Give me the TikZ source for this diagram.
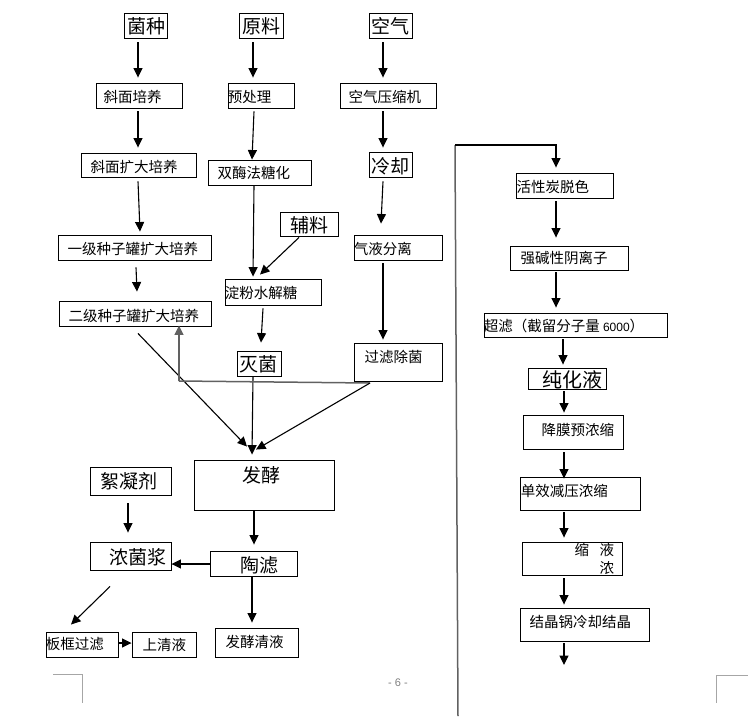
\documentclass[tikz,border=0pt]{standalone}
\usepackage{fontspec}
\newfontfamily\cjk{Noto Sans CJK SC}
\newfontfamily\lat{Liberation Sans}
\usetikzlibrary{arrows.meta,calc,fit}
\newcommand\mybox[5]{\node[box,fit={(#2,#3) (#4,#5)}] (#1) {};}
\begin{document}
\begin{tikzpicture}[x=1pt,y=-1pt,
  box/.style={draw,line width=0.9pt,inner sep=0pt},
  txt/.style={inner sep=0pt,anchor=west,font=\cjk\fontsize{14.5}{16}\selectfont},
  big/.style={inner sep=0pt,anchor=west,font=\cjk\fontsize{19}{21}\selectfont},
  bigger/.style={inner sep=0pt,anchor=west,font=\cjk\fontsize{20}{22}\selectfont},
  tip/.style={-{Triangle[length=9.5pt,width=9pt]}},
  arr/.style={draw,line width=1.1pt,tip},
  grayline/.style={draw=black!62,line width=1.5pt},
  pagemark/.style={draw=black!35,line width=0.8pt}]
\useasboundingbox (0,0) rectangle (748,716);

% ---------- boxes ----------
\mybox{jz}{124}{13}{167}{38}
\mybox{yl}{239}{13}{283}{38}
\mybox{kq}{369}{13}{412}{38}
\mybox{xmpy}{96}{83}{182}{108}
\mybox{ycl}{228}{83}{294}{108}
\mybox{ysj}{340}{83}{436}{108}
\mybox{kdpy}{81}{153}{196}{177}
\mybox{smf}{208}{160}{311}{185}
\mybox{lq}{369}{152}{412}{177}
\mybox{fl}{280}{212}{338}{236}
\mybox{yj}{58}{235}{211}{260}
\mybox{qy}{354}{235}{442}{260}
\mybox{dfs}{225}{279}{321}{305}
\mybox{ej}{59}{301}{211}{326}
\mybox{mj}{237}{351}{281}{376}
\mybox{glc}{354}{343}{442}{381}
\mybox{fj}{194}{460}{334}{510}
\mybox{xnj}{90}{467}{171}{495}
\mybox{njj}{90}{542}{171}{570}
\mybox{tl}{210}{551}{297}{576}
\mybox{bk}{46}{632}{118}{657}
\mybox{sqy}{132}{632}{196}{657}
\mybox{fjqy}{215}{628}{298}{657}
\mybox{hxt}{516}{173}{613}{198}
\mybox{qjx}{510}{246}{628}{270}
\mybox{cl}{484}{313}{667}{337}
\mybox{chy}{528}{368}{606}{389}
\mybox{jm}{523}{415}{623}{449}
\mybox{dx}{520}{477}{640}{510}
\mybox{sn}{522}{542}{622}{575}
\mybox{jj}{520}{608}{649}{641}

% ---------- texts ----------
\node[big] (t-jz) at (127.4,26.5) {菌种};
\node[big] (t-yl) at (242.4,26.5) {原料};
\node[big] (t-kq) at (371.4,26.5) {空气};
\node[txt] (t-xmpy) at (103.4,97) {斜面培养};
\node[txt] (t-ycl) at (227.6,97) {预处理};
\node[txt] (t-ysj) at (348.4,97) {空气压缩机};
\node[txt] (t-kdpy) at (90.4,167) {斜面扩大培养};
\node[txt] (t-smf) at (217.4,173) {双酶法糖化};
\node[big] (t-lq) at (371.4,166) {冷却};
\node[big] (t-fl) at (290.4,225) {辅料};
\node[txt] (t-yj) at (67.4,249) {一级种子罐扩大培养};
\node[txt] (t-qy) at (353.6,249) {气液分离};
\node[txt] (t-dfs) at (224.6,293) {淀粉水解糖};
\node[txt] (t-ej) at (68.4,316) {二级种子罐扩大培养};
\node[big] (t-mj) at (239.4,364) {灭菌};
\node[txt] (t-glc) at (364.4,357) {过滤除菌};
\node[big] (t-fj) at (242.4,475) {发酵};
\node[big] (t-xnj) at (100.4,481) {絮凝剂};
\node[big] (t-njj) at (109.4,557) {浓菌浆};
\node[big] (t-tl) at (240.4,565) {陶滤};
\node[txt] (t-bk) at (45.6,644) {板框过滤};
\node[txt] (t-sqy) at (142.4,645) {上清液};
\node[txt] (t-fjqy) at (225.4,642) {发酵清液};
\node[txt] (t-hxt) at (516.4,187) {活性炭脱色};
\node[txt] (t-qjx) at (520.4,258) {强碱性阴离子};
\node[txt] (t-cl) at (483.6,326) {超滤（截留分子量 {\lat\fontsize{12}{14}\selectfont 6000}）};
\node[bigger] (t-chy) at (542.6,380) {纯化液};
\node[txt] (t-jm) at (541.4,430) {降膜预浓缩};
\node[txt] (t-dx) at (520.6,491) {单效减压浓缩};
\node[txt] (t-sn1) at (574.4,550) {缩};
\node[txt] (t-sn2) at (599.4,550) {液};
\node[txt] (t-sn3) at (599.4,568) {浓};
\node[txt] (t-jj) at (529.4,622) {结晶锅冷却结晶};

% ---------- left column connectors ----------
\draw[arr] ($(jz.south -| 138,0)+(0,4)$) -- ($(xmpy.north -| 138,0)+(0,-5)$);
\draw[arr] ($(yl.south -| 253,0)+(0,4)$) -- ($(ycl.north -| 253,0)+(0,-5)$);
\draw[arr] ($(kq.south -| 383,0)+(0,4)$) -- ($(ysj.north -| 383,0)+(0,-5)$);
\draw[arr] ($(xmpy.south -| 138,0)+(0,3)$) -- ($(kdpy.north -| 138,0)+(0,-5)$);
\draw[arr] ($(ycl.south -| 254,0)+(0,3)$) -- (smf.north -| 252,0);
\draw[arr] ($(ysj.south -| 383,0)+(0,3)$) -- ($(lq.north -| 383,0)+(0,-4)$);
\draw[arr] ($(kdpy.south -| 138,0)+(0,4)$) -- ($(yj.north -| 140,0)+(0,-3)$);
\draw[arr] (smf.south -| 254,0) -- ($(dfs.north -| 253,0)+(0,-2)$);
\draw[arr] ($(fl.south -| 299,0)+(0,1)$) -- ($(dfs.north -| 260,0)+(0,-4)$);
\draw[arr] ($(lq.south -| 383,0)+(0,4)$) -- ($(qy.north -| 381,0)+(0,-11)$);
\draw[arr] ($(yj.south -| 136,0)+(0,7)$) -- ($(ej.north -| 137,0)+(0,-9)$);
\draw[arr] ($(qy.south -| 383,0)+(0,3)$) -- ($(glc.north -| 383,0)+(0,-3)$);
\draw[arr] ($(dfs.south -| 263,0)+(0,3)$) -- ($(mj.north -| 261,0)+(0,-8)$);
\draw[arr] (mj.south -| 253,0) -- ($(fj.north -| 252,0)+(0,-5)$);
\draw[arr] ($(ej.south -| 138,0)+(0,7)$) -- ($(fj.north -| 247,0)+(0,-13)$);

\coordinate (hj) at (370,383);
\coordinate (hk) at (179,381);
\draw[grayline] (hj) -- (hk);
\draw[grayline,tip] (hk) -- ($(ej.south -| 179,0)+(0,-1)$);
\draw[arr] (hj) -- ($(fj.north -| 256,0)+(0,-10)$);

\draw[arr] (fj.south -| 254,0) -- ($(tl.north -| 254,0)+(0,-6)$);
\draw[arr] (tl.west |- 0,564) -- (njj.east |- 0,564);
\draw[arr] (tl.south -| 252,0) -- ($(fjqy.north -| 252,0)+(0,-5)$);
\draw[arr] ($(xnj.south -| 128,0)+(0,8)$) -- ($(njj.north -| 128,0)+(0,-9)$);
\draw[arr] ($(njj.south -| 110,0)+(0,16)$) -- ($(bk.north -| 71,0)+(0,-7)$);
\draw[arr] (bk.east |- 0,643) -- (sqy.west |- 0,643);

% ---------- right column connectors ----------
\coordinate (rb) at (458,716);
\coordinate (rt) at (455,145);
\draw[grayline] (rb) -- (rt);
\draw[arr] (rt) -- (556,145) -- ($(hxt.north -| 556,0)+(0,-5)$);
\draw[arr] ($(hxt.south -| 556,0)+(0,3)$) -- ($(qjx.north -| 556,0)+(0,-8)$);
\draw[arr] ($(qjx.south -| 556,0)+(0,2)$) -- ($(cl.north -| 556,0)+(0,-5)$);
\draw[arr] ($(cl.south -| 563,0)+(0,2)$) -- ($(chy.north -| 563,0)+(0,-3)$);
\draw[arr] ($(chy.south -| 564,0)+(0,2)$) -- ($(jm.north -| 564,0)+(0,-2)$);
\draw[arr] ($(jm.south -| 564,0)+(0,3)$) -- ($(dx.north -| 564,0)+(0,2)$);
\draw[arr] ($(dx.south -| 564,0)+(0,2)$) -- ($(sn.north -| 564,0)+(0,-4)$);
\draw[arr] ($(sn.south -| 564,0)+(0,3)$) -- ($(jj.north -| 564,0)+(0,-3)$);
\coordinate (jend) at (564,665);
\draw[arr] ($(jj.south -| 564,0)+(0,2)$) -- (jend);

% ---------- page decoration ----------
\draw[pagemark] (53,674) -- (82,674) -- (82,703);
\draw[pagemark] (748,675) -- (716,675) -- (716,703);
\node[inner sep=0pt,text=black!50,font=\lat\fontsize{11}{13}\selectfont] (pg) at (398,683) {- 6 -};
\end{tikzpicture}
\end{document}
